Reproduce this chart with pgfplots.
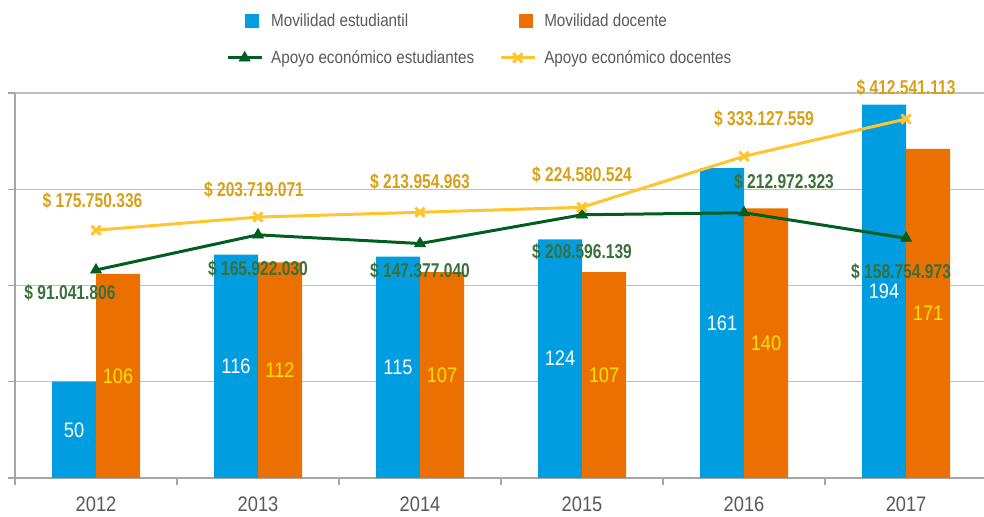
\documentclass[border=0pt]{standalone}
\usepackage{fontspec}
\setmainfont{Liberation Sans}[FakeStretch=0.87]
\newfontfamily\lblfont{Liberation Sans}[FakeStretch=0.78]
\usepackage{pgfplots}
\usepackage{pgfplotstable}
\pgfplotsset{compat=1.18}
\definecolor{cblue}{RGB}{0,158,224}
\definecolor{corange}{RGB}{236,112,0}
\definecolor{cgreen}{RGB}{0,94,32}
\definecolor{cgreentxt}{RGB}{58,112,58}
\definecolor{cyellow}{RGB}{255,196,46}
\definecolor{cgold}{RGB}{214,160,24}
\definecolor{cbarlab}{RGB}{255,225,0}
\definecolor{ctext}{RGB}{89,89,89}
\definecolor{cgrid}{RGB}{191,191,191}
\definecolor{caxis}{RGB}{166,166,166}
\newcommand\barfont{\fontsize{21bp}{24bp}\selectfont}
\newcommand\legfont{\fontsize{17.5bp}{20bp}\selectfont}
\newcommand\vfont{\lblfont\bfseries\fontsize{20bp}{24bp}\selectfont}

\pgfplotstableread[col sep=comma]{
x,mest,mdoc,est,estdx,estdy,estlab,doc,docdx,docdy,doclab
0,50,106,91.041806,-26,-23,\$ 91.041.806,175.750336,-3.5,29.5,\$ 175.750.336
1,116,112,165.922030,0,-33.5,\$ 165.922.030,203.719071,-4,27,\$ 203.719.071
2,115,107,147.377040,0,-27.5,\$ 147.377.040,213.954963,0,30,\$ 213.954.963
3,124,107,208.596139,0,-37,\$ 208.596.139,224.580524,0,32,\$ 224.580.524
4,161,140,212.972323,40,31,\$ 212.972.323,333.127559,20,37.5,\$ 333.127.559
5,194,171,158.754973,-5,-33.5,\$ 158.754.973,412.541113,0,31.5,\$ 412.541.113
}\datatable

\begin{document}
\begin{tikzpicture}
\path[use as bounding box] (0,0) rectangle (984bp,517bp);
\begin{axis}[
  at={(15bp,39bp)}, anchor=south west,
  scale only axis, width=969bp, height=385bp,
  xmin=-0.5, xmax=5.481, ymin=0, ymax=200,
  axis x line*=bottom, axis y line*=left,
  axis line style={caxis, line width=1.2bp},
  xtick={0,...,5}, xticklabels={2012,2013,2014,2015,2016,2017},
  minor xtick={-0.5,0.5,1.5,2.5,3.5,4.5},
  every major x tick/.append style={draw=none},
  every minor x tick/.append style={caxis, line width=1.2bp},
  x tick label style={font=\barfont, text=ctext, yshift=-8bp},
  ytick={0,50,...,200}, yticklabels={},
  every major y tick/.append style={caxis, line width=1.2bp},
  ymajorgrids, grid style={cgrid, line width=1.3bp},
  tick align=outside, major tick length=7bp, minor tick length=7bp,
  clip=false,
]
\addplot[ybar, bar width=44bp, bar shift=-22bp, fill=cblue, draw=none] table[x=x,y=mest]{\datatable};
\addplot[ybar, bar width=44bp, bar shift=22bp, fill=corange, draw=none] table[x=x,y=mdoc]{\datatable};
\addplot[draw=none, point meta=explicit symbolic, nodes near coords,
  nodes near coords style={anchor=center, xshift=-22bp, text=white, font=\barfont}]
  table[x=x, y expr=\thisrow{mest}/2, meta=mest]{\datatable};
\addplot[draw=none, point meta=explicit symbolic, nodes near coords,
  nodes near coords style={anchor=center, xshift=22bp, text=cbarlab, font=\barfont}]
  table[x=x, y expr=\thisrow{mdoc}/2, meta=mdoc]{\datatable};
\end{axis}
\begin{axis}[
  at={(15bp,39bp)}, anchor=south west,
  scale only axis, width=969bp, height=385bp,
  xmin=-0.5, xmax=5.481, ymin=-351.8, ymax=467.9,
  hide x axis, hide y axis, clip=false,
  legend columns=2, legend cell align=left,
  legend image code/.code={\draw[mark repeat=2,mark phase=2,#1] plot coordinates {(0bp,0bp) (17bp,0bp) (34bp,0bp)};},
  legend style={at={(0.2177,1.207)}, anchor=north west, draw=none, fill=none,
    font=\legfont, text=ctext, inner sep=0pt, row sep=23bp,
    nodes={inner sep=0pt, text=ctext},
    /tikz/every odd column/.append style={column sep=8bp},
    /tikz/every even column/.append style={column sep=25bp}},
]
\addlegendimage{legend image code/.code={\fill[cblue] (18bp,-6.5bp) rectangle (31bp,6.5bp);}}
\addlegendentry{Movilidad estudiantil}
\addlegendimage{legend image code/.code={\fill[corange] (18bp,-6.5bp) rectangle (31bp,6.5bp);}}
\addlegendentry{Movilidad docente}
\addplot[cgreen, line width=3bp, mark=triangle*, mark size=6.5bp, mark options={solid, line width=0.5bp}] table[x=x,y=est]{\datatable};
\addlegendentry{Apoyo económico estudiantes}
\addplot[cyellow, line width=3bp, mark=x, mark size=6.5bp, mark options={solid, line width=3bp}] table[x=x,y=doc]{\datatable};
\addlegendentry{Apoyo económico docentes}
\addplot[forget plot, draw=none, point meta=explicit symbolic, nodes near coords,
  visualization depends on={\thisrow{estdx} \as \dx},
  visualization depends on={\thisrow{estdy} \as \dy},
  nodes near coords style={anchor=center, xshift=\dx bp, yshift=\dy bp, text=cgreentxt, font=\vfont}]
  table[x=x, y=est, meta=estlab]{\datatable};
\addplot[forget plot, draw=none, point meta=explicit symbolic, nodes near coords,
  visualization depends on={\thisrow{docdx} \as \dx},
  visualization depends on={\thisrow{docdy} \as \dy},
  nodes near coords style={anchor=center, xshift=\dx bp, yshift=\dy bp, text=cgold, font=\vfont}]
  table[x=x, y=doc, meta=doclab]{\datatable};
\end{axis}
\end{tikzpicture}
\end{document}
